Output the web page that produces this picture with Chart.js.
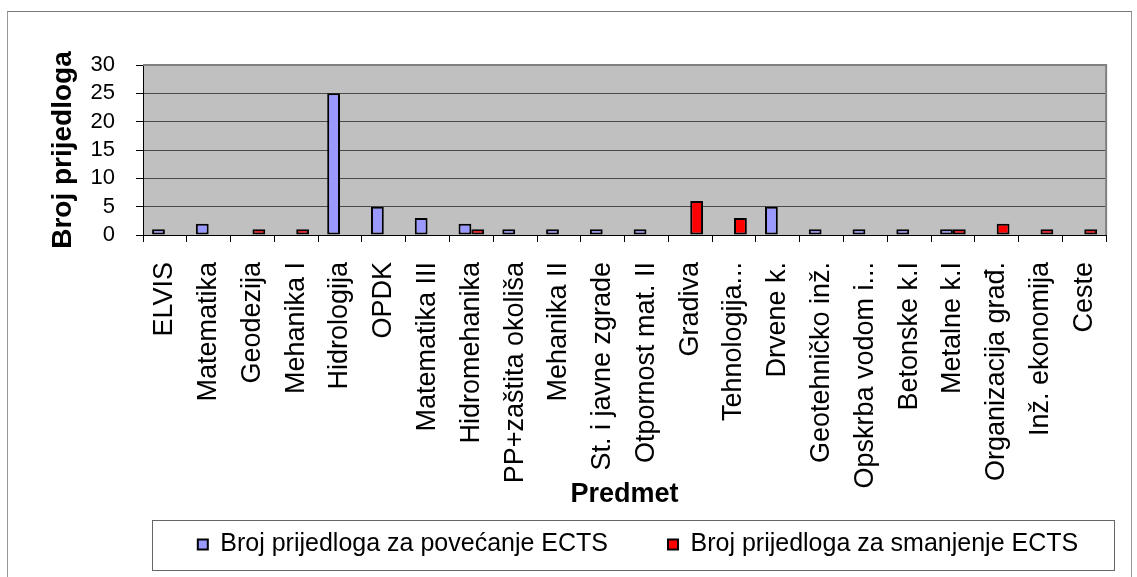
<!DOCTYPE html>
<html>
<head>
<meta charset="utf-8">
<title>Broj prijedloga</title>
<script src="https://cdn.jsdelivr.net/npm/chart.js@4.4.1/dist/chart.umd.min.js"></script>
<style>
  html, body { margin: 0; padding: 0; background: #fff; overflow: hidden; }
  #wrap { position: relative; width: 1137px; height: 577px; }
  #frame {
    position: absolute; left: 7px; top: 11px; width: 1123px; height: 600px;
    border-top: 1px solid #777; border-left: 1px solid #999; border-right: 1px solid #999;
    pointer-events: none;
  }
  canvas { position: absolute; left: 0; top: 0; }
</style>
</head>
<body>
<div id="wrap">
  <canvas id="chart" width="1137" height="577"></canvas>
  <div id="frame"></div>
</div>
<script>
const categories = [
  "ELVIS", "Matematika", "Geodezija", "Mehanika I", "Hidrologija", "OPDK",
  "Matematika III", "Hidromehanika", "PP+zaštita okoliša", "Mehanika II",
  "St. i javne zgrade", "Otpornost mat. II", "Gradiva", "Tehnologija...",
  "Drvene k.", "Geotehničko inž.", "Opskrba vodom i...", "Betonske k.I",
  "Metalne k.I", "Organizacija građ.", "Inž. ekonomija", "Ceste"
];
const increaseVals = [1, 2, 0, 0, 25, 5, 3, 2, 1, 1, 1, 1, 0, 0, 5, 1, 1, 1, 1, 0, 0, 0];
const decreaseVals = [0, 0, 1, 1, 0, 0, 0, 1, 0, 0, 0, 0, 6, 3, 0, 0, 0, 0, 1, 2, 1, 1];
const seriesNames = ["Broj prijedloga za povećanje ECTS", "Broj prijedloga za smanjenje ECTS"];
const yTicks = [0, 5, 10, 15, 20, 25, 30];

const FONT = "'Liberation Sans', Arial, sans-serif";
const LEGEND_PAD = 60;
const LEGEND_SIZE = 25;

// sivo polje grafa + okvir
const plotArea = {
  id: "plotArea",
  beforeDraw(chart) {
    const { ctx, chartArea: a } = chart;
    ctx.save();
    ctx.fillStyle = "#c0c0c0";
    ctx.fillRect(a.left, a.top, a.right - a.left, a.bottom - a.top);
    ctx.restore();
  },
  beforeDatasetsDraw(chart) {
    const { ctx, chartArea: a } = chart;
    ctx.save();
    ctx.strokeStyle = "#808080";
    ctx.lineWidth = 2;
    ctx.beginPath();
    ctx.moveTo(a.left, a.top);
    ctx.lineTo(a.right, a.top);
    ctx.lineTo(a.right, a.bottom);
    ctx.stroke();
    ctx.restore();
  }
};

// legenda: pomak (udesno i gore) i okvir oko nje
const legendBox = {
  id: "legendBox",
  afterLayout(chart) {
    const lg = chart.legend;
    lg.left += 77;
    lg.right += 77;
    lg.top -= 39;
    lg.bottom -= 39;
  },
  afterDraw(chart) {
    const lg = chart.legend;
    const { ctx } = chart;
    const cx = (lg.left + lg.right) / 2 - 5;
    const cy = lg.top + LEGEND_PAD + LEGEND_SIZE / 2;
    ctx.save();
    ctx.strokeStyle = "#666";
    ctx.lineWidth = 1;
    ctx.strokeRect(Math.round(cx - 481) + 0.5, Math.round(cy - 25) + 0.5, 962, 50);
    ctx.restore();
  }
};

new Chart(document.getElementById("chart"), {
  type: "bar",
  data: {
    labels: categories,
    datasets: [
      {
        label: seriesNames[0],
        data: increaseVals,
        backgroundColor: "#9999ff",
        borderColor: "#000",
        borderWidth: 2,
        borderSkipped: false
      },
      {
        label: seriesNames[1],
        data: decreaseVals,
        backgroundColor: "#ff0000",
        borderColor: "#000",
        borderWidth: 2,
        borderSkipped: false
      }
    ]
  },
  options: {
    responsive: false,
    animation: false,
    devicePixelRatio: 1,
    categoryPercentage: 0.585,
    barPercentage: 1,
    // dno je negativno jer je legenda pomaknuta gore
    layout: { padding: { left: 0, right: 15, top: 65, bottom: -29 } },
    plugins: {
      tooltip: { enabled: false },
      legend: {
        position: "bottom",
        labels: {
          boxWidth: 10,
          boxHeight: 10,
          padding: LEGEND_PAD,
          color: "#000",
          font: { family: FONT, size: LEGEND_SIZE }
        }
      }
    },
    scales: {
      x: {
        grid: {
          offset: true,
          drawOnChartArea: false,
          drawTicks: true,
          tickLength: 7,
          tickColor: "#000"
        },
        border: { color: "#000", width: 1 },
        ticks: {
          autoSkip: false,
          minRotation: 90,
          maxRotation: 90,
          padding: 20,
          color: "#000",
          font: { family: FONT, size: 27 }
        },
        title: {
          display: true,
          text: "Predmet",
          color: "#000",
          font: { family: FONT, size: 27, weight: "bold" },
          padding: { top: 0, bottom: 0 }
        },
        afterFit(s) { s.height = 276; }
      },
      y: {
        min: 0,
        max: 30,
        afterBuildTicks(s) { s.ticks = yTicks.map(v => ({ value: v })); },
        grid: {
          color: (c) => c.tick && c.tick.value === 30 ? "#808080" : "#4a4a4a",
          lineWidth: 1,
          drawTicks: true,
          tickLength: 7,
          tickColor: "#000"
        },
        border: { color: "#000", width: 1 },
        ticks: {
          autoSkip: false,
          padding: 21,
          color: "#000",
          font: { family: FONT, size: 22 }
        },
        title: {
          display: true,
          text: "Broj prijedloga",
          color: "#000",
          font: { family: FONT, size: 28, weight: "bold" },
          padding: { top: 46, bottom: 0 }
        },
        afterFit(s) { s.width = 143; }
      }
    }
  },
  plugins: [plotArea, legendBox]
});
</script>
</body>
</html>
